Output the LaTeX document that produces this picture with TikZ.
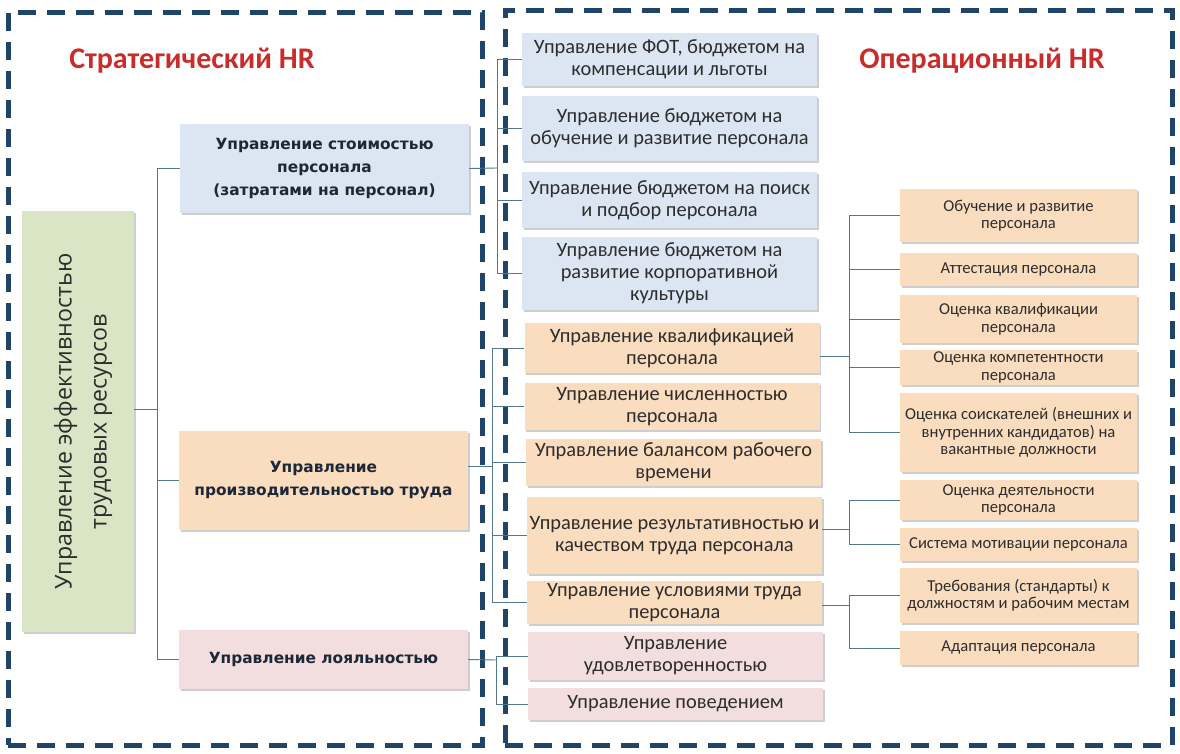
\documentclass[tikz,border=0pt]{standalone}
\usepackage{fontspec}
\setmainfont{Carlito}
\newfontfamily\hrbold{DejaVu Sans}
\newfontfamily\hrthin{Open Sans}
\usepackage{xcolor}
\usetikzlibrary{positioning,calc,shadows}
\definecolor{hrframe}{RGB}{31,70,104}
\definecolor{hrred}{RGB}{200,45,42}
\definecolor{hrblue}{RGB}{220,230,242}
\definecolor{hrpeach}{RGB}{250,220,190}
\definecolor{hrpink}{RGB}{242,222,222}
\definecolor{hrgreen}{RGB}{218,229,198}
\definecolor{hrline}{RGB}{82,120,140}
\definecolor{hrtext}{RGB}{45,45,45}
\definecolor{hrnavy}{RGB}{28,40,56}
\tikzset{
  hbox/.style   ={align=center, inner sep=2pt, text=hrtext,
                  drop shadow={shadow xshift=1.5pt, shadow yshift=-2pt, fill=black!55, opacity=0.35}},
  hmain/.style  ={hbox, text=hrnavy, font=\hrbold\bfseries\fontsize{15.4}{23}\selectfont,
                  minimum width=289pt},
  hsub/.style   ={hbox, font=\fontsize{20.4}{22}\selectfont, minimum width=295pt},
  hleaf/.style  ={hbox, fill=hrpeach, font=\fontsize{16.6}{17.5}\selectfont,
                  minimum width=237pt},
  hframe/.style ={draw=hrframe, line width=5pt, dash pattern=on 18pt off 11pt},
  htitle/.style ={text=hrred, font=\bfseries\fontsize{30}{32}\selectfont},
  hconn/.style  ={draw=hrline, line width=0.9pt},
}
\begin{document}
\begin{tikzpicture}[x=1pt, y=-1pt]
\useasboundingbox (0,0) rectangle (1180,753);

% frames and titles
\node[hframe, minimum width=474pt, minimum height=733pt] (sframe) at (245,378.5) {};
\node[hframe, minimum width=667pt, minimum height=735pt] (oframe) at (838.5,377.5) {};
\node[htitle] (stitle) at (192,61) {Стратегический HR};
\node[htitle] (otitle) at (982,61) {Операционный HR};

% root
\node[hbox, fill=hrgreen, minimum width=112pt, minimum height=421pt] (root) at (78,421.5) {};
\node[rotate=90, align=center, text=hrtext, font=\hrthin\fontsize{23.2}{35}\selectfont]
  (roottxt) at ([xshift=5pt]root.center) {Управление эффективностью\\трудовых ресурсов};

% strategic level
\node[hmain, fill=hrblue, minimum height=89pt] (cost) at (324.5,168.5)
  {Управление стоимостью\\персонала\\(затратами на персонал)};
\node[hmain, fill=hrpeach, minimum height=99pt] (prod) at (323.5,480.5)
  {Управление\\производительностью труда};
\node[hmain, fill=hrpink, minimum height=59pt] (loyal) at (323.5,659.5)
  {Управление лояльностью};

% operational level: costs
\node[hsub, fill=hrblue, minimum height=53pt] (fot) at (669.5,59.5)
  {Управление ФОТ, бюджетом на\\компенсации и льготы};
\node[hsub, fill=hrblue, minimum height=65pt] (obuch) at (669.5,128.5)
  {Управление бюджетом на\\обучение и развитие персонала};
\node[hsub, fill=hrblue, minimum height=56pt] (poisk) at (669.5,200)
  {Управление бюджетом на поиск\\и подбор персонала};
\node[hsub, fill=hrblue, minimum height=73pt] (kult) at (669.5,273.5)
  {Управление бюджетом на\\развитие корпоративной\\культуры};

% operational level: productivity
\node[hsub, fill=hrpeach, minimum height=50pt] (kval) at (672,348)
  {Управление квалификацией\\персонала};
\node[hsub, fill=hrpeach, minimum height=47pt] (chisl) at (672,406.5)
  {Управление численностью\\персонала};
\node[hsub, fill=hrpeach, minimum height=47pt] (balans) at (673.5,462.5)
  {Управление балансом рабочего\\времени};
\node[hsub, fill=hrpeach, minimum height=77pt] (rezult) at (674.5,535.5)
  {Управление результативностью и\\качеством труда персонала};
\node[hsub, fill=hrpeach, minimum height=41pt] (uslov) at (674.5,602.5)
  {Управление условиями труда\\персонала};

% operational level: loyalty
\node[hsub, fill=hrpink, minimum height=48pt] (udovl) at (675.5,656)
  {Управление\\удовлетворенностью};
\node[hsub, fill=hrpink, minimum height=32pt] (poved) at (675.5,704)
  {Управление поведением};

% third level
\node[hleaf, minimum height=53pt] (obr) at (1018.5,215.5) {Обучение и развитие\\персонала};
\node[hleaf, minimum height=33pt] (att) at (1018.5,269.5) {Аттестация персонала};
\node[hleaf, minimum height=48pt] (okv) at (1018.5,319) {Оценка квалификации\\персонала};
\node[hleaf, minimum height=35pt] (okomp) at (1018.5,367.5) {Оценка компетентности\\персонала};
\node[hleaf, minimum height=79pt] (osois) at (1018.5,432.5)
  {Оценка соискателей (внешних и\\внутренних кандидатов) на\\вакантные должности};
\node[hleaf, minimum height=40pt] (odeat) at (1018.5,500) {Оценка деятельности\\персонала};
\node[hleaf, minimum height=33pt] (motiv) at (1018.5,544.5) {Система мотивации персонала};
\node[hleaf, minimum height=55pt] (treb) at (1018.5,595.5)
  {Требования (стандарты) к\\должностям и рабочим местам};
\node[hleaf, minimum height=34pt] (adapt) at (1018.5,648) {Адаптация персонала};

% connectors
\coordinate (jroot) at (157,409);
\draw[hconn] (root.east |- jroot) -- (jroot);
\foreach \n in {cost,prod,loyal}
  \draw[hconn] (jroot) |- (\n.west);

\coordinate (jcost) at (497,168);
\draw[hconn] (cost.east) -- (jcost);
\foreach \n in {fot,obuch,poisk,kult}
  \draw[hconn] (jcost) |- (\n.west);

\coordinate (jprod) at (492,466);
\draw[hconn] (prod.east |- jprod) -- (jprod);
\foreach \n in {kval,chisl,balans,rezult,uslov}
  \draw[hconn] (jprod) |- (\n.west);

\coordinate (jloyal) at (496,660);
\draw[hconn] (loyal.east) -- (jloyal);
\foreach \n in {udovl,poved}
  \draw[hconn] (jloyal) |- (\n.west);

\coordinate (jkval) at (849,356);
\draw[hconn] (kval.east |- jkval) -- (jkval);
\foreach \n in {obr,att,okv,okomp,osois}
  \draw[hconn] (jkval) |- (\n.west);

\coordinate (jrez) at (849,529);
\draw[hconn] (rezult.east |- jrez) -- (jrez);
\foreach \n in {odeat,motiv}
  \draw[hconn] (jrez) |- (\n.west);

\coordinate (jusl) at (849,605);
\draw[hconn] (uslov.east |- jusl) -- (jusl);
\foreach \n in {treb,adapt}
  \draw[hconn] (jusl) |- (\n.west);

\end{tikzpicture}
\end{document}
